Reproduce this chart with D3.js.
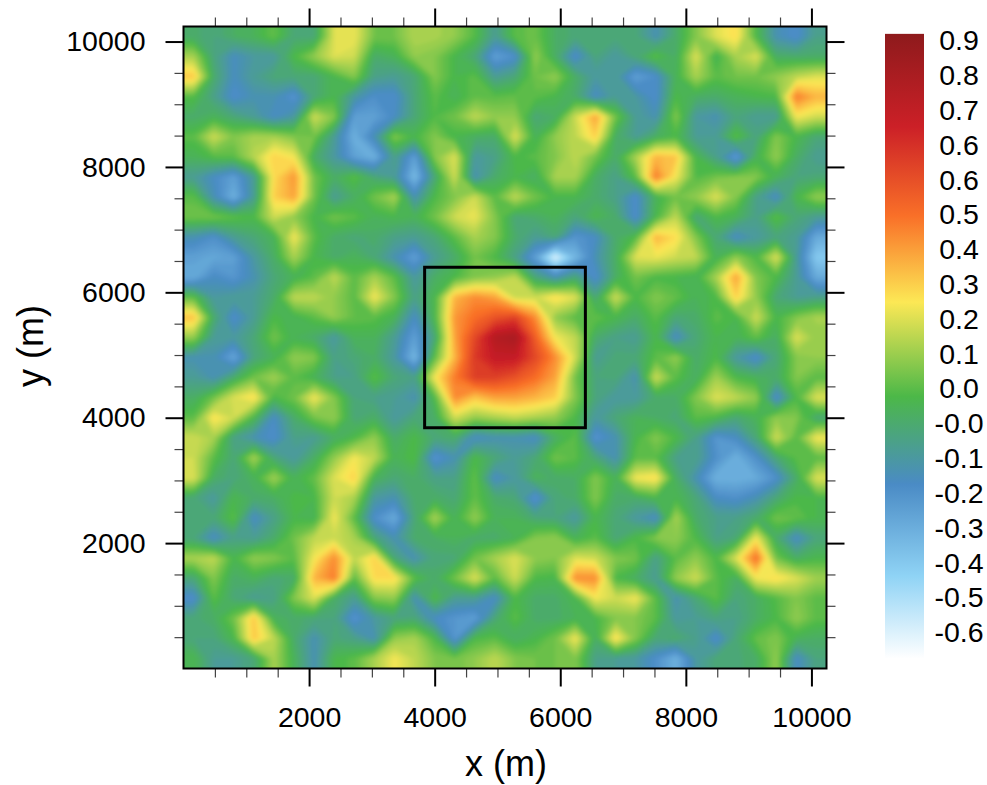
<!DOCTYPE html>
<html><head><meta charset="utf-8">
<script src="https://cdnjs.cloudflare.com/ajax/libs/d3/7.8.5/d3.min.js"></script>
<style>html,body{margin:0;background:#fff}svg{display:block}text{font-family:"Liberation Sans",Arial,sans-serif;fill:#000}</style>
</head><body><div id="c"></div>
<script>
// field values in hundredths, top row first (cell = 320 m)
const fieldRows = [
[-3,-6,-2,0,6,-5,-5,22,24,8,8,16,15,12,4,-10,5,7,-2,-5,-5,-5,-5,-15,-3,10,22,28,3,-15,-20,-8],
[15,-6,-17,-12,-12,3,12,22,20,-3,0,12,10,2,-5,-25,-20,12,-2,-20,-6,-12,-5,5,-2,22,0,15,22,-2,-3,-3],
[32,-3,-17,-10,-5,-5,-5,2,10,-8,-10,-5,10,2,5,-10,-5,8,12,-2,-12,-10,-25,-20,0,15,5,8,8,12,18,22],
[4,-8,-20,-15,-15,-22,-5,2,-12,-20,-20,-5,5,0,6,5,6,5,2,-3,-18,-10,-12,-20,3,-2,-3,0,2,3,45,35],
[-3,0,-5,-10,-18,-12,20,10,-25,-25,-18,-5,4,8,18,12,12,-5,-2,20,38,8,-10,-15,10,-12,-15,-6,-10,-10,25,20],
[5,20,10,15,15,10,8,-10,-30,-15,10,2,10,2,-2,-3,22,0,12,18,30,-2,-10,-2,3,-10,-10,5,-6,10,2,-5],
[0,4,5,17,30,25,-2,-12,-25,-30,-8,-25,10,22,-12,-8,3,5,10,18,8,-3,15,35,32,2,-8,-25,0,12,-2,-10],
[-10,-18,-25,-10,28,40,8,-2,5,-5,-10,-33,-5,20,-15,-3,2,-2,15,15,-2,-8,5,45,25,4,8,10,10,0,-6,-5],
[5,-15,-30,-10,30,38,8,-10,-2,8,15,-15,3,10,20,5,18,8,2,2,-3,-8,-20,0,8,12,22,10,-8,-18,2,12],
[8,8,5,3,20,12,2,8,5,0,2,0,8,20,24,10,-5,-3,0,-6,2,-3,-20,2,18,-5,3,0,-8,5,-5,-10],
[-15,-20,-10,-5,0,25,5,-3,-5,-3,-8,-10,-5,5,15,10,-3,-10,-5,-22,-18,-3,4,35,28,10,-5,-18,-12,-6,-10,-28],
[-25,-27,-25,-12,-2,15,2,-3,0,-5,-15,-25,-10,-3,8,3,-8,-25,-55,-32,-15,-2,22,24,20,18,0,12,3,22,-10,-38],
[-28,-18,-22,-15,-5,0,5,18,5,15,5,-12,-2,3,10,12,18,-5,-15,-5,-20,-2,8,3,2,0,15,38,10,3,-10,-28],
[5,-12,-10,-10,-3,18,18,12,5,25,10,-8,2,35,42,38,20,20,28,22,-5,20,3,10,6,0,3,30,12,-5,-10,-8],
[33,-3,-20,-10,3,0,5,12,6,5,0,-18,2,40,48,55,60,42,12,5,6,2,-3,5,-5,-3,5,2,20,2,10,15],
[12,-10,-12,-5,8,0,-3,-12,0,0,-10,-25,-5,38,58,78,82,52,25,18,-3,-8,-10,2,-18,-5,2,0,6,-2,22,12],
[-15,-15,-27,-6,0,12,10,-8,-5,-2,-12,-32,5,35,62,72,72,58,42,20,-10,-5,-5,5,12,-3,3,-12,-20,-5,10,12],
[-10,-15,-3,8,14,5,0,-8,-8,5,-5,-8,25,45,60,60,55,48,38,8,-6,-5,-15,20,5,-2,14,3,0,-3,10,5],
[-2,8,22,28,2,8,25,10,-6,-8,-10,-15,3,42,32,38,38,35,30,10,-6,-12,-12,-3,-3,10,22,18,12,-20,3,22],
[5,27,20,2,-18,-3,8,12,-5,-2,-12,-5,-2,20,12,15,18,15,12,3,-12,-5,0,-2,-5,5,2,-5,0,12,10,-5],
[20,15,-8,-15,-20,-8,-10,-2,3,12,-3,3,-5,-3,-18,-15,-15,-18,-2,5,-22,-15,2,10,3,-8,-22,-18,-5,20,5,25],
[20,5,-5,15,-5,-12,-2,12,25,18,0,4,-22,-15,3,-5,-10,-5,8,5,-5,-15,5,5,-8,-8,-20,-30,-20,-5,5,5],
[22,-2,-6,0,14,0,6,22,30,0,-5,-2,-8,-8,6,-18,-12,0,-3,-2,10,0,25,28,-2,-15,-30,-30,-28,-20,-3,22],
[-5,-12,2,-3,-2,3,2,20,15,-12,-15,-3,-2,-5,6,-3,-5,-22,-5,-3,10,-3,-3,2,2,-5,-18,-20,-15,-5,3,2],
[-5,-5,5,-18,-8,2,0,25,5,-20,-28,-5,15,0,12,0,0,-5,-6,-12,2,-5,-12,-18,15,-3,-8,-8,-3,8,6,2],
[-6,-18,-8,-10,-3,8,18,20,15,-5,-15,-3,-2,0,-3,-3,0,10,12,0,5,-5,3,10,12,3,-8,-5,25,-3,-18,-6],
[15,18,2,12,10,5,25,42,18,30,-5,-15,-5,-5,8,15,22,12,10,22,20,10,8,-8,5,12,3,22,48,8,-2,2],
[-5,10,-3,0,-5,-3,35,45,5,28,28,5,-3,8,22,5,20,3,2,42,42,3,-2,-10,12,20,5,-2,25,28,22,14],
[-20,5,-5,-10,-8,10,22,-2,-10,10,12,-15,3,-10,-10,-18,3,-3,-3,2,25,20,25,5,-15,-5,5,-6,-2,4,10,5],
[-5,-2,8,32,0,-3,-5,-6,-22,-12,-6,-5,-18,-22,-25,-5,5,-3,-3,0,2,10,10,5,-12,-10,-6,-8,-2,3,12,5],
[-6,-6,2,32,18,-3,-15,-5,-8,-15,12,15,3,-22,3,5,-2,2,8,25,-2,28,10,-5,-3,-8,-20,-5,6,10,0,-2],
[2,-10,-10,-5,15,0,-15,2,5,15,25,18,10,8,12,18,10,8,8,10,-8,-10,-12,-20,-30,-12,-5,-5,-2,12,-18,-6]
];
const colorValues = [-0.62,-0.418,-0.194,0.02,0.25,0.46,0.678,0.905];
const colorHex = ["#ffffff","#8fd3f5","#4a8bc5","#4cb848","#fce855","#f97028","#cc2027","#8e1a1c"];
const barTickValues = [0.89,0.805,0.72,0.635,0.55,0.465,0.38,0.295,0.21,0.125,0.04,-0.045,-0.13,-0.215,-0.3,-0.385,-0.47,-0.555];
const barTickLabels = ["0.9","0.8","0.7","0.6","0.6","0.5","0.4","0.3","0.2","0.1","0.0","-0.0","-0.1","-0.2","-0.3","-0.4","-0.5","-0.6"];
const majorTicks = [2000,4000,6000,8000,10000];
const minorTicks = d3.range(500,10001,500).filter(d=>d%2000);
const boxCorners = [3840,6400];
const extentMax = 10240;

const W=987,H=785;
const x=d3.scaleLinear([0,extentMax],[183.5,826.5]);
const y=d3.scaleLinear([0,extentMax],[668.5,26.5]);
const color=d3.scaleLinear(colorValues,colorHex).interpolate(d3.interpolateRgb).clamp(true);
const svg=d3.select("#c").append("svg").attr("width",W).attr("height",H);
const defs=svg.append("defs");
defs.append("filter").attr("id","soft").attr("filterUnits","userSpaceOnUse").attr("x",120).attr("y",-40).attr("width",770).attr("height",770)
  .append("feGaussianBlur").attr("stdDeviation",2);
defs.append("clipPath").attr("id","plot").append("rect")
  .attr("x",x(0)).attr("y",y(extentMax)).attr("width",x(extentMax)-x(0)).attr("height",y(0)-y(extentMax));

// edge rows and columns are repeated once so the contours run past the frame, where they are clipped
const nr=fieldRows.length,nc=fieldRows[0].length;
const padded=[fieldRows[0],...fieldRows,fieldRows[nr-1]].map(r=>[r[0],...r,r[nc-1]]);
const flat=padded.flat().map(v=>v/100);
const thresholds=d3.range(-0.62,0.92,0.02);
const contours=d3.contours().size([nc+2,nr+2]).smooth(true).thresholds(thresholds)(flat);
const cell=extentMax/nc;
const path=d3.geoPath(d3.geoTransform({point(px,py){this.stream.point(x((px-1)*cell),y(extentMax-(py-1)*cell));}}));
const plot=svg.append("g").attr("clip-path","url(#plot)");
plot.append("g").attr("filter","url(#soft)").selectAll("path").data(contours).join("path")
  .attr("d",path).attr("fill",d=>color(d.value));

// colour bar
const barY=d3.scaleLinear([0.89,-0.555],[40,632]);
const grad=defs.append("linearGradient").attr("id","bar").attr("x1",0).attr("x2",0).attr("y1",0).attr("y2",1);
const bt=colorValues[colorValues.length-1],bb=colorValues[0];
[...colorValues.keys()].reverse().forEach(i=>grad.append("stop").attr("offset",(bt-colorValues[i])/(bt-bb)).attr("stop-color",colorHex[i]));
svg.append("rect").attr("x",885).attr("width",39).attr("y",barY(bt)).attr("height",barY(bb)-barY(bt)).attr("fill","url(#bar)");
svg.append("g").selectAll("text").data(barTickValues).join("text")
  .attr("x",959).attr("y",d=>barY(d)).attr("dy","0.36em").attr("text-anchor","middle").attr("font-size",28.5)
  .text((d,i)=>barTickLabels[i]);

// axes
function ax(gen,scale,vals,len,tx,ty,sw,col,labels){
  const g=svg.append("g").attr("transform",`translate(${tx},${ty})`)
    .call(gen(scale).tickValues(vals).tickSize(len).tickSizeOuter(0).tickPadding(labels?20:0).tickFormat(labels?d3.format("d"):""));
  g.select(".domain").remove();
  g.selectAll("line").attr("stroke",col).attr("stroke-width",sw);
  g.selectAll("text").attr("font-size",28.5).attr("font-family",null);
  return g;
}
[[d3.axisBottom,x,0,y(0)],[d3.axisTop,x,0,y(extentMax)],[d3.axisLeft,y,x(0),0],[d3.axisRight,y,x(extentMax),0]].forEach(([g,s,tx,ty])=>{
  ax(g,s,minorTicks,9,tx,ty,1.2,"#444",false);
  ax(g,s,majorTicks,18,tx,ty,2,"#000",g===d3.axisBottom||g===d3.axisLeft);
});
svg.append("rect").attr("x",x(0)).attr("y",y(extentMax)).attr("width",x(extentMax)-x(0)).attr("height",y(0)-y(extentMax))
  .attr("fill","none").attr("stroke","#000").attr("stroke-width",2);
svg.append("rect").attr("x",x(boxCorners[0])).attr("y",y(boxCorners[1]))
  .attr("width",x(boxCorners[1])-x(boxCorners[0])).attr("height",y(boxCorners[0])-y(boxCorners[1]))
  .attr("fill","none").attr("stroke","#000").attr("stroke-width",3);
svg.append("text").attr("x",506).attr("y",776).attr("text-anchor","middle").attr("font-size",36).text("x (m)");
svg.append("text").attr("transform","translate(43,346) rotate(-90)").attr("text-anchor","middle").attr("font-size",36).text("y (m)");
</script></body></html>
